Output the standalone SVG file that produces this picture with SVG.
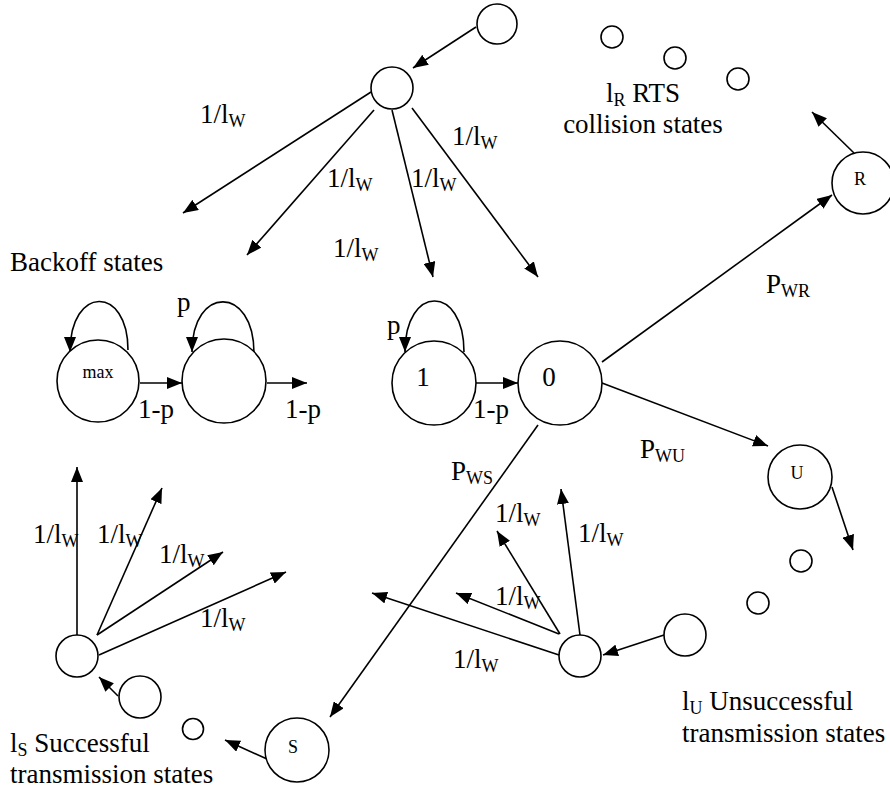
<svg xmlns="http://www.w3.org/2000/svg" width="890" height="793" viewBox="0 0 890 793">
<defs>
<marker id="ah" viewBox="0 0 15 12" refX="15" refY="6" markerWidth="15" markerHeight="12" markerUnits="userSpaceOnUse" orient="auto">
<path d="M0,0 L15,6 L0,12 z" fill="#000"/>
</marker>
</defs>
<style>
text{font-family:'Liberation Serif','Times New Roman','DejaVu Serif',serif;fill:#000}
.lb{font-size:27px}
.sm{font-size:18px}
.st{font-size:18px}
circle{fill:#fff;stroke:#000;stroke-width:1.6}
.c line,.c path{stroke:#000;stroke-width:1.6;fill:none}
.a{marker-end:url(#ah)}
</style>
<rect width="890" height="793" fill="#fff"/>
<g class="c" id="connectors">
<line class="a" x1="476" y1="27" x2="413" y2="68"/>
<line class="a" x1="371" y1="92" x2="183" y2="213"/>
<line class="a" x1="374" y1="110" x2="247" y2="255"/>
<line class="a" x1="392" y1="110" x2="433" y2="277"/>
<line class="a" x1="412" y1="108" x2="538" y2="277"/>
<path class="a" d="M128,350 C128,285 70,285 70,352"/>
<path class="a" d="M254,353 C254,285 192,285 192,352"/>
<path class="a" d="M464,352 C464,284 405,284 405,352"/>
<line class="a" x1="140" y1="383" x2="182" y2="383"/>
<line class="a" x1="267" y1="383" x2="307" y2="383"/>
<line class="a" x1="476" y1="383" x2="518" y2="383"/>
<line class="a" x1="602" y1="362" x2="832" y2="195"/>
<line class="a" x1="854" y1="153" x2="812" y2="112"/>
<line class="a" x1="602" y1="383" x2="768" y2="446"/>
<line class="a" x1="832" y1="487" x2="853" y2="550"/>
<line class="a" x1="538" y1="425" x2="330" y2="717"/>
<line class="a" x1="267" y1="759" x2="225" y2="740"/>
<line class="a" x1="77" y1="635" x2="77" y2="467"/>
<line class="a" x1="97" y1="635" x2="162" y2="488"/>
<line class="a" x1="97" y1="635" x2="223" y2="552"/>
<line class="a" x1="99" y1="655" x2="286" y2="572"/>
<line class="a" x1="118" y1="696" x2="99" y2="677"/>
<line class="a" x1="580" y1="635" x2="561" y2="489"/>
<line class="a" x1="560" y1="634" x2="497" y2="531"/>
<line class="a" x1="559" y1="634" x2="456" y2="593"/>
<line class="a" x1="559" y1="655" x2="372" y2="593"/>
<line class="a" x1="664" y1="635" x2="603" y2="655"/>
</g>
<g id="labels" font-family="'Liberation Serif','Times New Roman','DejaVu Serif',serif">
<text class="lb" x="200" y="123">1/l<tspan class="sm" dy="4">W</tspan></text>
<text class="lb" x="327" y="187">1/l<tspan class="sm" dy="4">W</tspan></text>
<text class="lb" x="411" y="187">1/l<tspan class="sm" dy="4">W</tspan></text>
<text class="lb" x="452" y="145">1/l<tspan class="sm" dy="4">W</tspan></text>
<text class="lb" x="333" y="257">1/l<tspan class="sm" dy="4">W</tspan></text>
<text class="lb" x="10" y="271">Backoff states</text>
<text class="lb" x="177" y="311">p</text>
<text class="lb" x="387" y="334">p</text>
<text class="lb" x="138" y="418">1-p</text>
<text class="lb" x="285" y="418">1-p</text>
<text class="lb" x="473" y="418">1-p</text>
<text class="lb" x="766" y="293">P<tspan class="sm" dy="4">WR</tspan></text>
<text class="lb" x="640" y="458">P<tspan class="sm" dy="4">WU</tspan></text>
<text class="lb" x="451" y="480">P<tspan class="sm" dy="4">WS</tspan></text>
<text class="lb" x="643" y="102" text-anchor="middle">l<tspan class="sm" dy="4">R</tspan><tspan dy="-4"> RTS</tspan></text>
<text class="lb" x="643" y="133" text-anchor="middle">collision states</text>
<text class="lb" x="33" y="543">1/l<tspan class="sm" dy="4">W</tspan></text>
<text class="lb" x="97" y="543">1/l<tspan class="sm" dy="4">W</tspan></text>
<text class="lb" x="159" y="563">1/l<tspan class="sm" dy="4">W</tspan></text>
<text class="lb" x="200" y="627">1/l<tspan class="sm" dy="4">W</tspan></text>
<text class="lb" x="495" y="522">1/l<tspan class="sm" dy="4">W</tspan></text>
<text class="lb" x="578" y="542">1/l<tspan class="sm" dy="4">W</tspan></text>
<text class="lb" x="495" y="605">1/l<tspan class="sm" dy="4">W</tspan></text>
<text class="lb" x="453" y="668">1/l<tspan class="sm" dy="4">W</tspan></text>
<text class="lb" x="10" y="752">l<tspan class="sm" dy="4">S</tspan><tspan dy="-4"> Successful</tspan></text>
<text class="lb" x="10" y="783">transmission states</text>
<text class="lb" x="682" y="710">l<tspan class="sm" dy="4">U</tspan><tspan dy="-4"> Unsuccessful</tspan></text>
<text class="lb" x="682" y="742">transmission states</text>
</g>
<g id="nodes" font-family="'Liberation Serif','Times New Roman','DejaVu Serif',serif">
<g id="n-top-src"><circle cx="497" cy="24" r="20"/></g>
<g id="n-top-hub"><circle cx="392" cy="88" r="21"/></g>
<g id="n-max"><circle cx="98" cy="381" r="41"/><text class="st" x="98" y="378" text-anchor="middle">max</text></g>
<g id="n-b2"><circle cx="224" cy="381" r="42"/></g>
<g id="n-1"><circle cx="434" cy="383" r="42"/><text class="lb" x="423" y="386" text-anchor="middle">1</text></g>
<g id="n-0"><circle cx="560" cy="383" r="42"/><text class="lb" x="549" y="386" text-anchor="middle">0</text></g>
<g id="n-R"><circle cx="863" cy="183" r="31"/><text class="st" x="860" y="185" text-anchor="middle">R</text></g>
<g id="n-U"><circle cx="800" cy="477" r="32"/><text class="st" x="797" y="479" text-anchor="middle">U</text></g>
<g id="n-S"><circle cx="297" cy="750" r="32"/><text class="st" x="293" y="753" text-anchor="middle">S</text></g>
<g id="n-r1"><circle cx="612" cy="37" r="11"/></g>
<g id="n-r2"><circle cx="675" cy="58" r="11"/></g>
<g id="n-r3"><circle cx="738" cy="79" r="11"/></g>
<g id="n-u1"><circle cx="801" cy="561" r="11"/></g>
<g id="n-u2"><circle cx="758" cy="603" r="11"/></g>
<g id="n-s1"><circle cx="193" cy="729" r="10.5"/></g>
<g id="n-bl-hub"><circle cx="77" cy="656" r="21"/></g>
<g id="n-bl-src"><circle cx="140" cy="697" r="21"/></g>
<g id="n-bm-hub"><circle cx="580" cy="656" r="21"/></g>
<g id="n-bm-src"><circle cx="685" cy="635" r="21"/></g>
</g>
</svg>
